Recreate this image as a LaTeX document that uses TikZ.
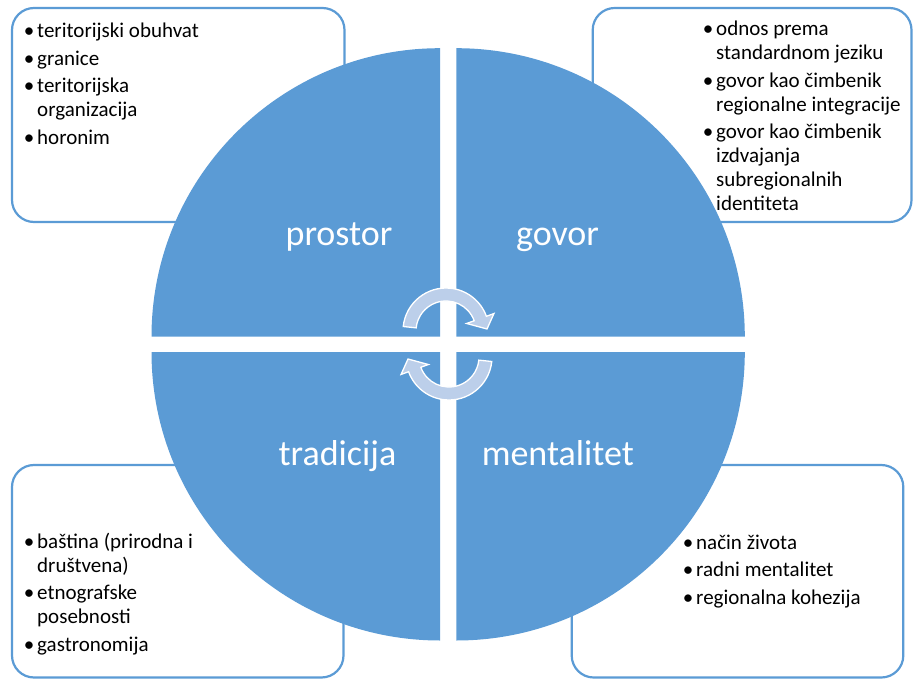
\documentclass[tikz,border=0pt]{standalone}
\usepackage{fontspec}
\setmainfont{Carlito}
\definecolor{pieblue}{HTML}{5B9BD5}
\definecolor{boxblue}{HTML}{5B9BD5}
\definecolor{arrowfill}{HTML}{BCCFEA}
\newcommand\bu{\makebox[10pt][c]{•}}
\begin{document}
\begin{tikzpicture}[x=1pt,y=-1pt,
  infobox/.style={draw=boxblue, line width=2.2pt, fill=white, rounded corners=22pt},
  pie/.style={fill=pieblue},
  biglabel/.style={text=white, font=\fontsize{36}{40}\selectfont, anchor=base, inner sep=0pt},
  bullets/.style={font=\fontsize{21}{24}\selectfont, anchor=base west, inner sep=0pt, align=left},
  cycarrow/.pic={
    \filldraw[fill=arrowfill, draw=white, line width=1.3pt, line join=miter]
      (186:43) arc[start angle=186, end angle=340, radius=43]
      -- (340:51) -- (41,-2) -- (340:22) -- (340:30)
      arc[start angle=340, end angle=186, radius=30] -- cycle;
  }]
\useasboundingbox (0,0) rectangle (913,679);
% corner boxes
\draw[infobox] (12,8) rectangle (344.5,222);
\draw[infobox] (592.7,8) rectangle (911.5,222);
\draw[infobox] (12,465) rectangle (343.5,677.5);
\draw[infobox] (571.7,465) rectangle (903.3,677.5);
% quadrants
\fill[pie] (440,336.7) -- ++(-288.5,0) arc[start angle=180, end angle=270, radius=288.5] -- cycle;
\fill[pie] (456.3,336.7) -- ++(288.5,0) arc[start angle=360, end angle=270, radius=288.5] -- cycle;
\fill[pie] (440,352) -- ++(-288.5,0) arc[start angle=180, end angle=90, radius=288.5] -- cycle;
\fill[pie] (456.3,352) -- ++(288.5,0) arc[start angle=0, end angle=90, radius=288.5] -- cycle;
% quadrant labels
\node[biglabel] (lprostor) at (339,245.5) {prostor};
\node[biglabel] (lgovor) at (557.5,245.5) {govor};
\node[biglabel] (ltradicija) at (337.5,465) {tradicija};
\node[biglabel] (lmentalitet) at (557.8,465) {mentalitet};
% cycle arrows
\pic at (446,331) {cycarrow};
\pic[rotate=180] at (449,357) {cycarrow};
% bullet texts
\node[bullets] (tprostor) at (24,38) {\begin{tabular}[t]{@{}l@{\hspace{3pt}}l@{}}
\bu & teritorijski obuhvat\\[3.4pt]
\bu & granice\\[3.4pt]
\bu & teritorijska\\
    & organizacija\\[3.4pt]
\bu & horonim
\end{tabular}};
\node[bullets] (tgovor) at (703,36) {\begin{tabular}[t]{@{}l@{\hspace{3pt}}l@{}}
\bu & odnos prema\\
    & standardnom jeziku\\[3.4pt]
\bu & govor kao čimbenik\\
    & regionalne integracije\\[3.4pt]
\bu & govor kao čimbenik\\
    & izdvajanja\\
    & subregionalnih\\
    & identiteta
\end{tabular}};
\node[bullets] (ttradicija) at (24,548.3) {\begin{tabular}[t]{@{}l@{\hspace{3pt}}l@{}}
\bu & baština (prirodna i\\
    & društvena)\\[3.4pt]
\bu & etnografske\\
    & posebnosti\\[3.4pt]
\bu & gastronomija
\end{tabular}};
\node[bullets] (tmentalitet) at (683,549.3) {\begin{tabular}[t]{@{}l@{\hspace{3pt}}l@{}}
\bu & način života\\[3.4pt]
\bu & radni mentalitet\\[3.4pt]
\bu & regionalna kohezija
\end{tabular}};
\end{tikzpicture}
\end{document}
